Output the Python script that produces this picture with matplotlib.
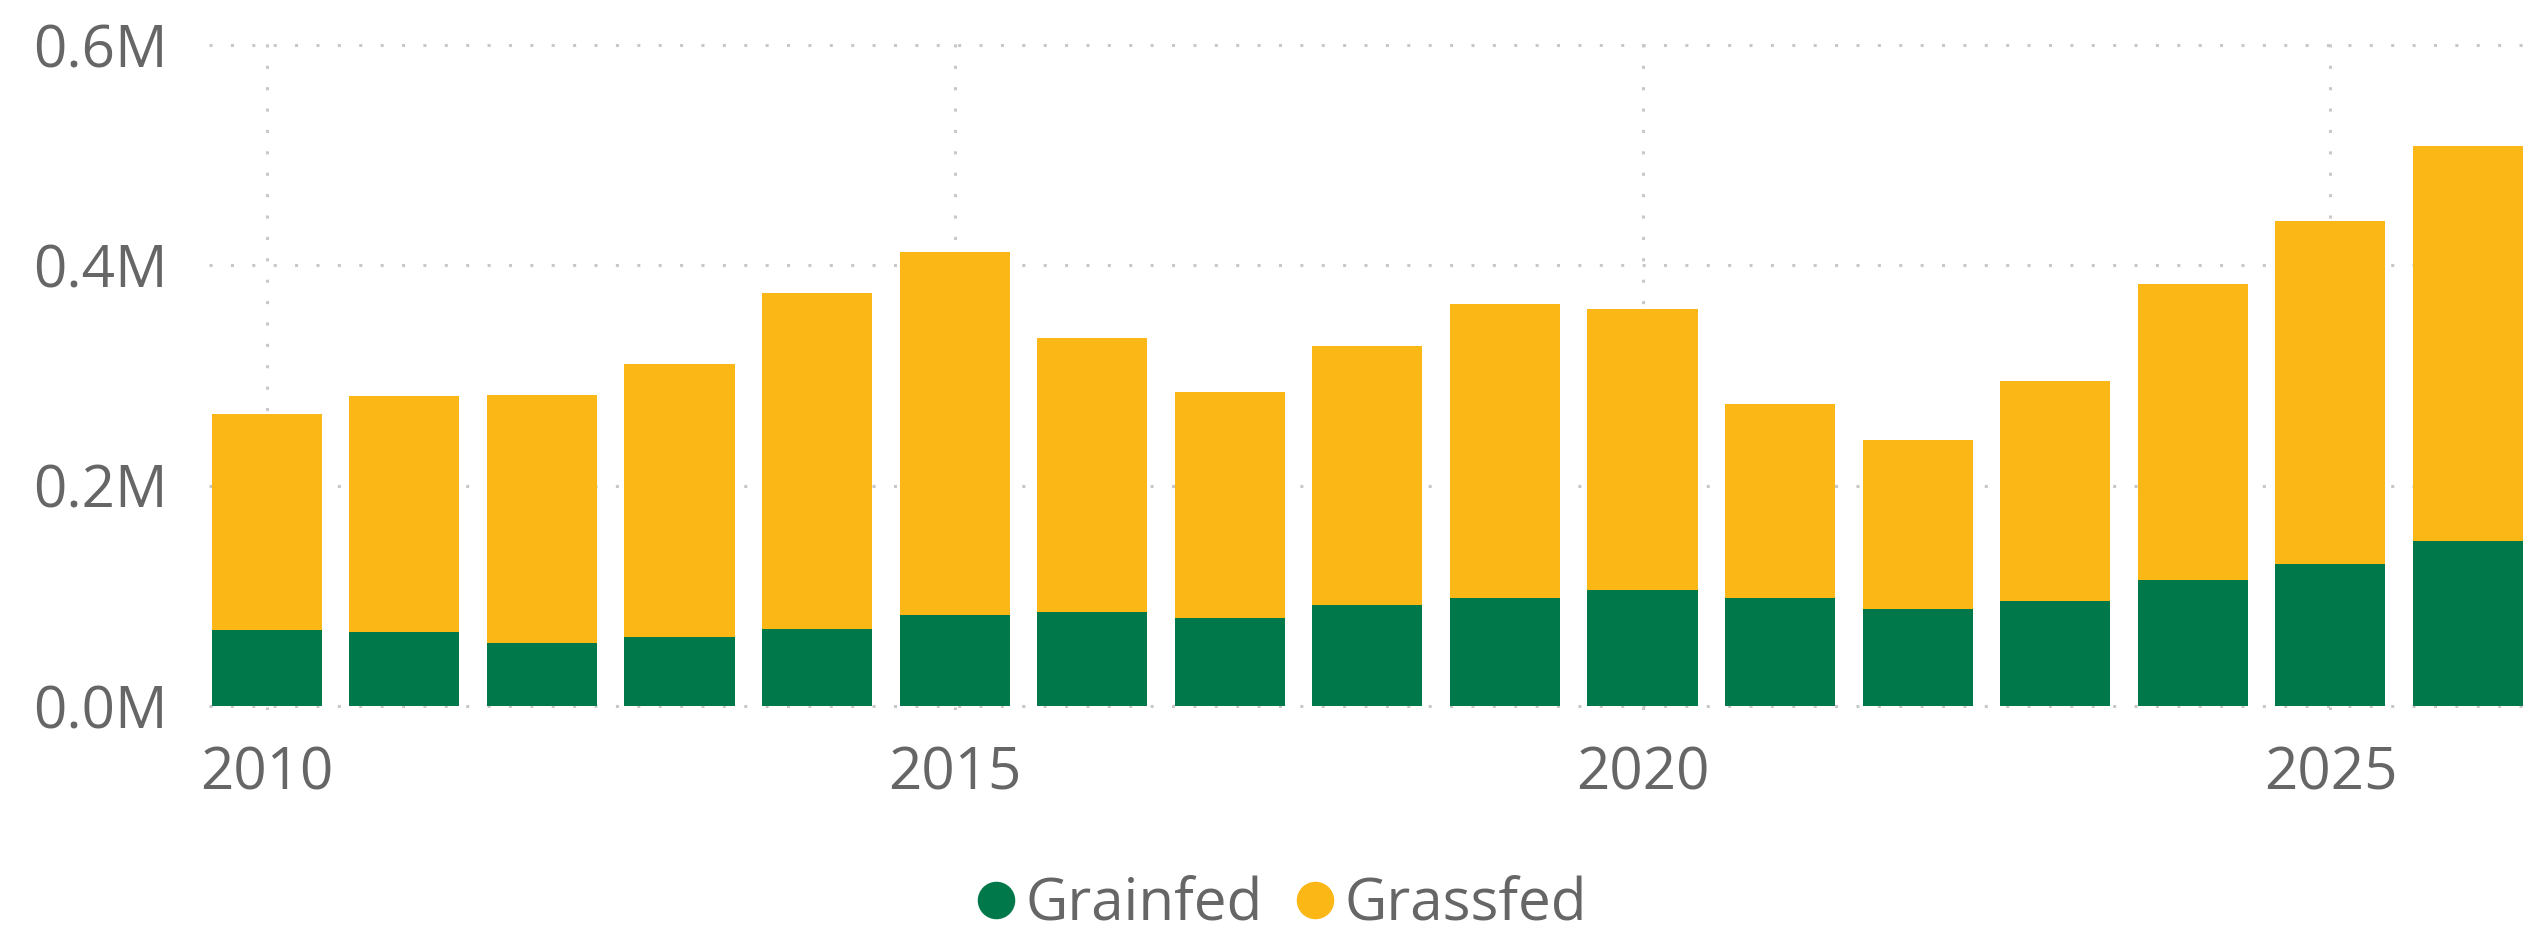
import matplotlib.pyplot as plt
from matplotlib.ticker import FuncFormatter
from matplotlib.lines import Line2D

plt.rcParams['font.family'] = ['Open Sans', 'DejaVu Sans']

# data (tonnes)
years = list(range(2010, 2027))
grainfed = [69000, 67000, 57000, 63000, 70000, 83000, 85000, 80000, 92000,
            98000, 105000, 98000, 88000, 95000, 114000, 129000, 150000]
totals = [265000, 281000, 282000, 310000, 375000, 412000, 334000, 285000, 327000,
          365000, 360000, 274000, 241000, 295000, 383000, 440000, 508000]
grassfed = [t - g for t, g in zip(totals, grainfed)]
tick_years = [2010, 2015, 2020, 2025]

GREEN = '#01784A'
YELLOW = '#FBB715'
TEXT = '#666666'
GRID = '#C8C8C8'

W, H = 2523, 931
fig = plt.figure(figsize=(W / 100, H / 100), dpi=100)

# axes placed in pixel terms
ymin, ymax = -4000, 610000
px_per_unit = (706 - 45) / 600000
y_bottom_px = 706 + (0 - ymin) * px_per_unit
y_top_px = 706 - ymax * px_per_unit
ax = fig.add_axes([209 / W, 1 - y_bottom_px / H, 1 - 209 / W, (y_bottom_px - y_top_px) / H])

x = list(range(len(years)))
ax.bar(x, grainfed, width=0.8, color=GREEN, zorder=2)
ax.bar(x, grassfed, width=0.8, bottom=grainfed, color=YELLOW, zorder=2)

ax.set_xlim(-0.42, 16.4)
ax.set_ylim(ymin, ymax)
ax.set_yticks([0, 200000, 400000, 600000])
ax.yaxis.set_major_formatter(FuncFormatter(lambda v, p: f'{v / 1e6:.1f}M'))
ax.set_xticks([years.index(y) for y in tick_years])
ax.set_xticklabels([str(y) for y in tick_years])

ax.grid(True, color=GRID, linestyle=(0, (1, 6)), linewidth=2.2, zorder=0)
ax.set_axisbelow(True)
for s in ax.spines.values():
    s.set_visible(False)
ax.tick_params(axis='y', length=0, pad=30, labelsize=42, labelcolor=TEXT)
ax.tick_params(axis='x', length=0, pad=25, labelsize=42, labelcolor=TEXT)

handles = [Line2D([], [], marker='o', linestyle='', markersize=26, color=GREEN),
           Line2D([], [], marker='o', linestyle='', markersize=26, color=YELLOW)]
fig.legend(handles, ['Grainfed', 'Grassfed'], loc='center', bbox_to_anchor=(0.506, 0.028),
           ncol=2, frameon=False, fontsize=42, labelcolor=TEXT, handletextpad=0.0,
           columnspacing=0.4, handlelength=1.0)

fig.savefig('out.png', dpi=100)
